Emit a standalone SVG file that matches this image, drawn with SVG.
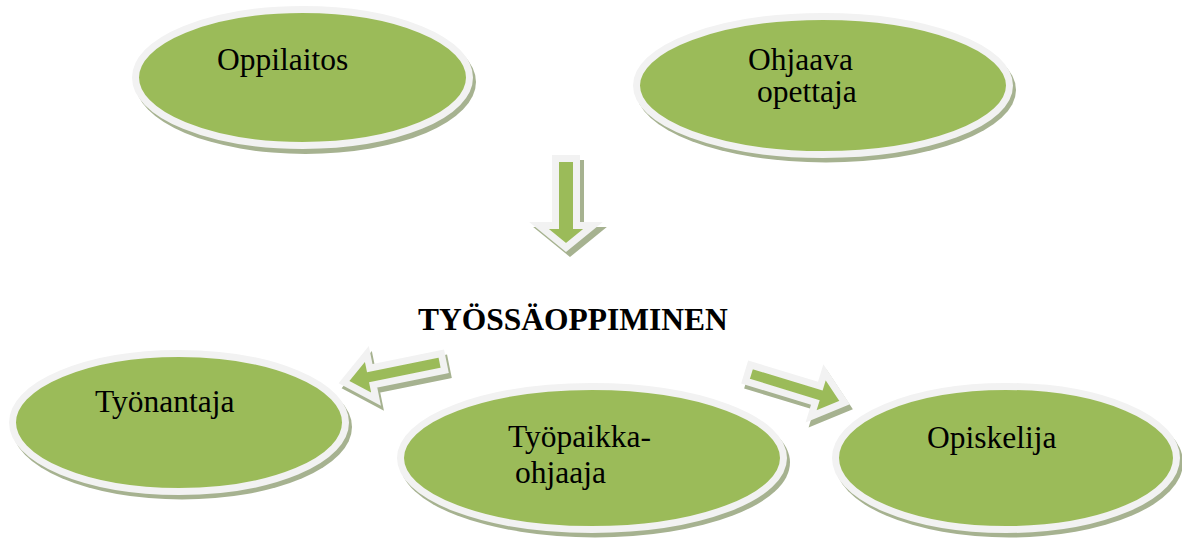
<svg xmlns="http://www.w3.org/2000/svg" width="1182" height="541" viewBox="0 0 1182 541">
<style>
.sh{fill:#a6b290}
.el{fill:#9bbb59;stroke:#f2f2f2;stroke-width:7}
.ar{fill:#9bbb59;stroke:#f2f2f2;stroke-width:7;stroke-linejoin:miter;stroke-miterlimit:10}
.ars{fill:#a6b290;stroke:#a6b290;stroke-width:7;stroke-linejoin:miter;stroke-miterlimit:10}
</style>
<rect width="1182" height="541" fill="#fff"/>
<g id="connectors">
  <g id="arrow-down" transform="translate(566,158.5) rotate(90)">
    <path class="ars" transform="translate(5,-4)" d="M0,-10.5 L67,-10.5 L67,-27 L89,0 L67,27 L67,10.5 L0,10.5 Z"/>
    <path class="ar" d="M0,-10.5 L67,-10.5 L67,-27 L89,0 L67,27 L67,10.5 L0,10.5 Z"/>
  </g>
  <g id="arrow-left">
    <path class="ars" transform="translate(3,5) translate(443,362) rotate(168.5)" d="M0,-8.5 L73,-8.5 L73,-23 L101,0 L73,23 L73,8.5 L0,8.5 Z"/>
    <path class="ar" transform="translate(443,362) rotate(168.5)" d="M0,-8.5 L73,-8.5 L73,-23 L101,0 L73,23 L73,8.5 L0,8.5 Z"/>
  </g>
  <g id="arrow-right">
    <path class="ars" transform="translate(3,5) translate(748,373) rotate(17)" d="M0,-8.5 L73,-8.5 L73,-23 L101,0 L73,23 L73,8.5 L0,8.5 Z"/>
    <path class="ar" transform="translate(748,373) rotate(17)" d="M0,-8.5 L73,-8.5 L73,-23 L101,0 L73,23 L73,8.5 L0,8.5 Z"/>
  </g>
</g>
<g font-family="'Liberation Serif', 'Times New Roman', Times, serif" font-size="31.5" fill="#000">
<g id="oppilaitos">
  <ellipse class="sh" cx="305.5" cy="82" rx="170.5" ry="72"/>
  <ellipse class="el" cx="302.5" cy="77.5" rx="167" ry="68"/>
  <text x="217" y="70">Oppilaitos</text>
</g>
<g id="ohjaava-opettaja">
  <ellipse class="sh" cx="826" cy="90" rx="190" ry="72.5"/>
  <ellipse class="el" cx="823" cy="85.5" rx="186.5" ry="69"/>
  <text x="748" y="70">Ohjaava</text>
  <text x="757" y="102">opettaja</text>
</g>
<g id="tyonantaja">
  <ellipse class="sh" cx="182" cy="427" rx="170" ry="72.5"/>
  <ellipse class="el" cx="179" cy="422.5" rx="166.5" ry="69"/>
  <text x="95" y="412">Työnantaja</text>
</g>
<g id="tyopaikkaohjaaja">
  <ellipse class="sh" cx="595" cy="462.5" rx="195" ry="75"/>
  <ellipse class="el" cx="592" cy="458" rx="191.5" ry="71.5"/>
  <text x="508" y="447">Työpaikka-</text>
  <text x="515" y="483">ohjaaja</text>
</g>
<g id="opiskelija">
  <ellipse class="sh" cx="1009" cy="462.5" rx="174" ry="75"/>
  <ellipse class="el" cx="1006" cy="458" rx="170.5" ry="71.5"/>
  <text x="927" y="448">Opiskelija</text>
</g>
<g id="tyossaoppiminen">
  <text x="418" y="330" font-weight="bold">TYÖSSÄOPPIMINEN</text>
</g>
</g>
</svg>
